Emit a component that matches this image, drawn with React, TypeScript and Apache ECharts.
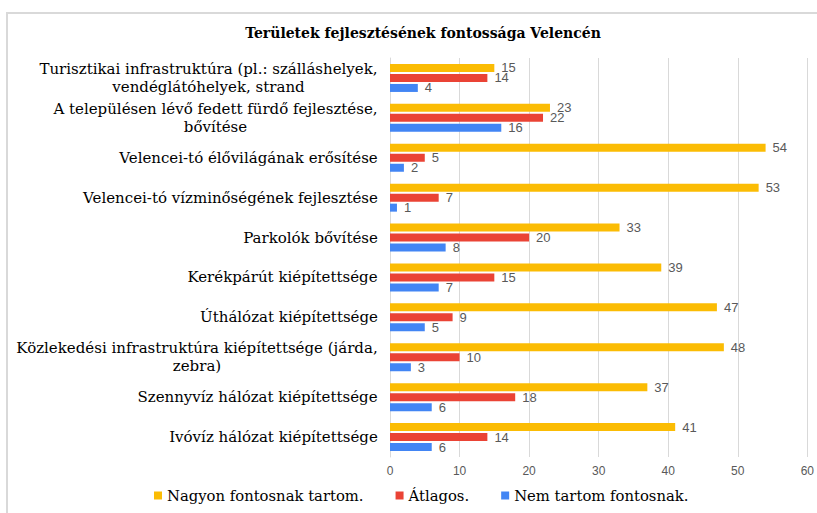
import React, { useEffect, useRef } from "react";
import * as echarts from "echarts";

const categories = [
  "Turisztikai infrastruktúra (pl.: szálláshelyek,\nvendéglátóhelyek, strand",
  "A településen lévő fedett fürdő fejlesztése,\nbővítése",
  "Velencei-tó élővilágának erősítése",
  "Velencei-tó vízminőségének fejlesztése",
  "Parkolók bővítése",
  "Kerékpárút kiépítettsége",
  "Úthálózat kiépítettsége",
  "Közlekedési infrastruktúra kiépítettsége (járda,\nzebra)",
  "Szennyvíz hálózat kiépítettsége",
  "Ivóvíz hálózat kiépítettsége",
];
const nagyon = [15, 23, 54, 53, 33, 39, 47, 48, 37, 41];
const atlagos = [14, 22, 5, 7, 20, 15, 9, 10, 18, 14];
const nem = [4, 16, 2, 1, 8, 7, 5, 3, 6, 6];
const seriesNames = ["Nagyon fontosnak tartom.", "Átlagos.", "Nem tartom fontosnak."];
const colors = ["#FBBC04", "#EA4335", "#4285F4"];

const SERIF = "DejaVu Serif";
const LABEL_SIZE = 15;

export default function App() {
  const ref = useRef<HTMLDivElement>(null);
  useEffect(() => {
    if (!ref.current) return;
    const chart = echarts.init(ref.current, undefined, { renderer: "svg" });

    const canvas = document.createElement("canvas");
    const ctx = canvas.getContext("2d")!;
    ctx.font = `${LABEL_SIZE}px "${SERIF}"`;
    const rich: Record<string, any> = {};
    categories.forEach((c, i) => {
      const w = Math.max(...c.split("\n").map((l) => ctx.measureText(l).width));
      rich["w" + i] = {
        width: Math.ceil(w),
        align: "center",
        fontFamily: SERIF,
        fontSize: LABEL_SIZE,
        color: "#000",
        lineHeight: 18,
      };
    });

    const label = {
      show: true,
      position: "right" as const,
      distance: 7,
      color: "#595959",
      fontFamily: "Liberation Sans",
      fontSize: 13,
      lineHeight: 10,
    };
    const mk = (name: string, data: number[], color: string) => ({
      name,
      type: "bar",
      data,
      barWidth: 8,
      barGap: "25%",
      barCategoryGap: "22%",
      itemStyle: { color },
      label,
    });
    chart.setOption({
      animation: false,
      backgroundColor: "#fff",
      title: {
        text: "Területek fejlesztésének fontossága Velencén",
        left: 418,
        textAlign: "center",
        top: 21,
        textStyle: {
          fontFamily: SERIF,
          fontWeight: "bold",
          fontSize: 14,
          color: "#000",
        },
      },
      graphic: [
        {
          type: "rect",
          shape: { x: 7, y: 13, width: 840, height: 560 },
          style: { fill: "none", stroke: "#D9D9D9", lineWidth: 2 },
          silent: true,
        },
      ],
      legend: {
        data: seriesNames,
        bottom: 5,
        left: 149,
        itemWidth: 8,
        itemHeight: 8,
        itemGap: 32,
        icon: "rect",
        textStyle: {
          fontFamily: SERIF,
          fontSize: 14.8,
          color: "#000",
        },
      },
      grid: { left: 390, right: 9, top: 58, bottom: 56, containLabel: false },
      xAxis: {
        type: "value",
        min: 0,
        max: 60,
        interval: 10,
        axisLine: { show: false },
        axisTick: { show: false },
        splitLine: { lineStyle: { color: "#D9D9D9", width: 1 } },
        axisLabel: {
          color: "#595959",
          fontFamily: "Liberation Sans",
          fontSize: 12,
          margin: 8,
        },
      },
      yAxis: {
        type: "category",
        data: categories,
        inverse: true,
        axisLine: { show: true, lineStyle: { color: "#D9D9D9" } },
        axisTick: { show: false },
        axisLabel: {
          margin: 12,
          formatter: (v: string, idx: number) =>
            v
              .split("\n")
              .map((l) => `{w${idx}|${l}}`)
              .join("\n"),
          rich,
        },
      },
      series: [
        mk(seriesNames[0], nagyon, colors[0]),
        mk(seriesNames[1], atlagos, colors[1]),
        mk(seriesNames[2], nem, colors[2]),
      ],
    });
    return () => chart.dispose();
  }, []);
  return (
    <div
      ref={ref}
      style={{ position: "fixed", left: 0, top: 0, width: 817, height: 513 }}
    />
  );
}
